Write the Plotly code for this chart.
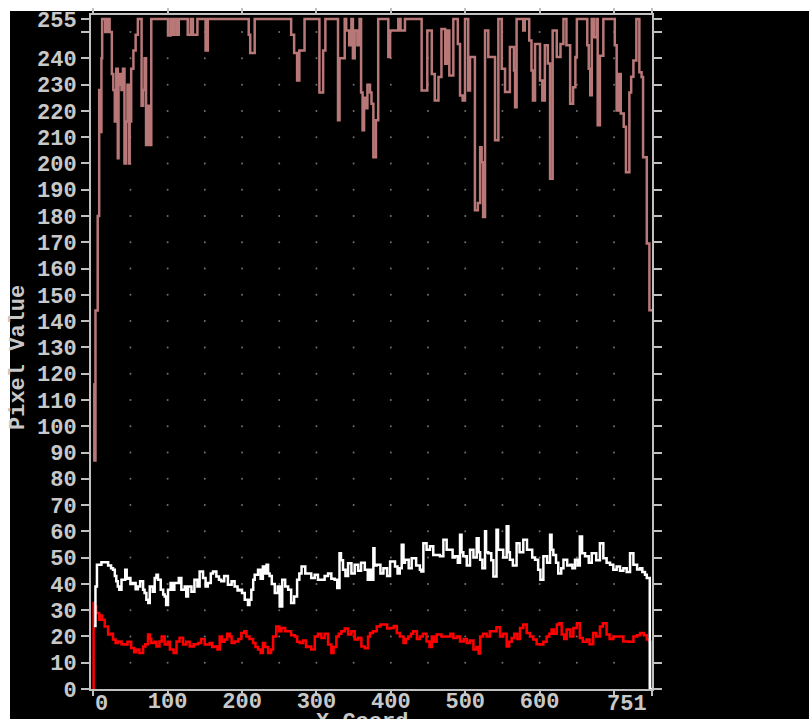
import plotly.graph_objects as go

# ---------------- data ----------------
brown_x = [0, 1.5, 3, 6, 8, 10, 11, 12, 16, 19, 22, 25, 27, 29, 31, 33, 34, 36, 38, 40, 42, 44, 46, 48, 49, 51, 54, 57, 60,
           65, 67, 69, 71, 74, 77, 78, 100.5, 104, 106, 108.6, 112, 115, 127, 131, 134, 140, 151, 154, 209, 211, 217,
           266, 270, 274, 277, 284, 304, 309, 312, 329, 331, 338, 340, 344, 347, 349, 351.4, 355, 358, 360, 362, 364,
           366, 368.5, 372, 374, 376.5, 380, 383, 396.6, 399, 410, 413, 419, 441.4, 449, 455, 459, 464, 468, 473, 476,
           478.6, 484, 490, 493, 496.5, 499.7, 504, 506.4, 513, 517, 520, 522, 524, 526.6, 531, 540, 544.5, 549, 553.5,
           560, 565.5, 567, 569, 578, 580, 586, 589, 591, 593.8, 600.5, 603.6, 607, 611, 614, 617.5, 623, 628, 632, 636,
           641, 645, 648, 650, 664, 666, 668, 670, 673, 676.7, 678, 681, 685.6, 701, 703.5, 706, 709, 713, 716, 720.6,
           723, 726, 730, 734, 737, 739, 744, 747.5, 751]
brown_y = [116, 87, 144, 180, 228, 212, 240, 255, 250, 255, 250, 234, 228, 216, 236, 202, 230, 234, 228, 236, 200, 216, 230,
           200, 216, 236, 243, 249, 255, 222, 228, 240, 207, 222, 207, 255, 248.7, 255, 249, 255, 249, 255, 249, 255, 249,
           255, 243, 255, 249, 242, 255, 249, 242, 231.6, 243, 255, 227, 243, 255, 216.4, 240, 255, 250.6, 245, 255, 240,
           250.6, 245, 255, 227, 212.6, 225, 221, 230, 227, 222.7, 202.4, 216.4, 255, 240.5, 250.6, 255, 250.6, 255,
           227.8, 250.6, 234, 224, 232.9, 251.2, 237.9, 250.6, 233.5, 255, 245.5, 225.9, 224, 255, 227.8, 240.5, 182.2,
           185, 206.2, 200.5, 179.6, 250.6, 240.5, 208.8, 255, 236, 227.2, 244.3, 235.4, 221.4, 255, 250.6, 255, 246.8,
           235.4, 224, 245.5, 231.6, 224, 245, 238, 194.2, 250.6, 240.5, 245.5, 255, 245, 222.7, 229, 240.5, 255, 245,
           236, 226, 255, 248, 255, 214.5, 241, 255, 245, 220.2, 234, 219, 214, 196.7, 227, 233, 239.2, 255, 234.7,
           232.9, 202.4, 169.5, 144.1, 144]

white_x = [1, 3, 5, 11, 20, 24, 26.6, 29, 31, 33, 35, 38, 43, 45, 46.8, 50, 53.5, 57, 60, 63, 67, 69, 71.4, 74, 76, 80, 82.6,
           85, 87, 90.7, 94, 96, 98, 100.5, 104, 107, 109, 111.7, 115, 118.4, 123, 125, 127.4, 132, 136, 140, 143,
           147.6, 151, 154, 158, 161, 165.5, 169, 172, 176, 181, 186, 190, 194, 197, 200, 203.6, 208, 210, 212.5, 215,
           217, 221.5, 225, 228, 231, 233, 235, 237, 240, 244, 248, 250.6, 254, 258, 262, 266, 270, 274, 277, 280, 285,
           288.7, 293, 297.7, 302, 306.6, 311, 315.6, 320, 324.5, 328, 331, 333, 335.7, 339, 342.5, 347, 351.4, 356,
           360, 365, 369, 372, 374, 376.5, 378, 381, 386, 390, 395, 399, 405.6, 409, 412, 414.6, 417, 419, 424, 428,
           434, 439, 441, 443.7, 448, 452.6, 457, 461.6, 466, 470.6, 475, 479.5, 483, 486, 490, 493, 495, 497.4, 502,
           506.4, 511, 515.4, 518, 520, 523, 526.6, 528, 531, 535, 537.8, 542, 544, 546.7, 551, 555.7, 558, 560, 564,
           569, 573, 578, 583, 587, 590, 593.8, 598, 601, 605, 610, 614, 616, 618.4, 622, 625, 629, 632, 637, 641, 644,
           647.5, 651, 654, 657, 661, 666, 670, 676, 681, 685.6, 690, 694.6, 699, 703.5, 708, 712.5, 717, 721.5, 726,
           731, 735, 738, 741.6, 744, 748, 751]
white_y = [24, 39, 47.3, 48.2, 47, 46, 45.4, 43, 41, 39, 37.8, 41.6, 45.4, 42, 42.2, 40, 40.3, 38, 39, 41, 37.8, 36.5, 34,
           32.7, 39, 37, 42.2, 43.5, 41.6, 37.8, 36, 35.2, 32, 37.8, 40.3, 37.8, 40.3, 40.3, 42.2, 37.8, 39, 35.2, 39, 37,
           41.6, 39, 44.7, 42.2, 39, 40.3, 44, 44.7, 42.8, 41.6, 41, 43, 39.7, 41, 39, 37.5, 37.8, 36.5, 34, 32, 34, 37.8,
           41.6, 43.5, 45.4, 42, 46.6, 44, 47.3, 44, 43, 40, 36.5, 39, 31.4, 41.6, 39, 37.8, 32.7, 35.2, 41.6, 44, 46.6,
           44, 44, 42.2, 43.5, 41.6, 41.6, 43, 44, 42, 41.6, 38.4, 51.7, 49, 45.4, 43, 47.9, 44, 47.3, 45, 48, 45.4, 41.6,
           45.4, 41.6, 53.6, 47, 47.3, 44, 46, 43, 48.5, 46.6, 44, 46, 54.9, 48, 49.2, 46, 49.8, 47, 45.4, 44.7, 55.5,
           53, 54.3, 51, 51, 50.5, 56.8, 53, 53, 50, 50.5, 48, 58.7, 52, 50.5, 47, 53, 50, 57.4, 52, 49.2, 46, 60, 52,
           51.7, 49, 42.8, 60.6, 53, 53, 50, 61.9, 52, 49.2, 47, 55.5, 52, 56.8, 53, 53, 50, 49.2, 45.4, 41.6, 50.5, 48,
           58.7, 53, 51, 48, 44, 46, 49.2, 47, 47.3, 46, 49.2, 47, 58, 51.7, 50.5, 48, 51.7, 49, 55.5, 49.8, 48, 47.3,
           45.4, 46.6, 45, 46, 44.5, 51.7, 47.3, 45.5, 46, 44.5, 43.5, 42.2, 0, 0]

red_x = [0, 0.5, 2, 4, 6.4, 8, 10, 12, 15.4, 20, 24, 26.6, 30, 33, 38, 42, 46, 51, 55, 58, 62, 67, 70, 73.6, 76, 78, 82, 85,
         89, 92, 96, 100, 103, 108, 112, 116, 120.7, 125, 129.6, 135, 141, 145, 149.8, 156.5, 160, 163, 167, 170, 173,
         176.7, 180, 183.4, 186, 190, 195, 199, 203, 206, 210, 214.8, 218, 221.5, 225, 228, 231, 235, 239, 241.7, 246,
         250, 253, 258, 262, 266, 271, 274, 277.5, 282, 286, 288.7, 293, 297.7, 302, 306.6, 311, 315.6, 320, 323,
         326.8, 330, 333.5, 338, 342.5, 347, 351.4, 356, 360.4, 365, 369.3, 372, 376, 381, 386, 390, 395, 399, 404,
         408, 412, 417, 420, 423.5, 427, 430, 435, 439, 443, 448, 452, 455, 458, 461.6, 468, 475, 480, 484, 489, 493,
         498, 502, 506, 511, 515, 518, 520, 524, 528.8, 533, 537.8, 542, 546.7, 551, 555.7, 559, 562.4, 566, 570,
         573.6, 578, 582.6, 587, 591.5, 596, 600.5, 605, 609.4, 613, 616, 619, 623, 626, 629.6, 633, 636.3, 641,
         645.3, 650, 654, 658, 663, 667, 672, 676, 681, 685, 690, 694, 699, 706, 712.5, 720, 726, 731, 735, 740, 744,
         748, 750.6, 751]
red_y = [0, 32.7, 31.4, 28.9, 28.9, 26.4, 28, 26.4, 23.8, 20.7, 21, 18.8, 17.5, 18.1, 17, 16.9, 18, 15.6, 14, 15, 13.7,
         16.2, 17, 20.7, 19, 17.5, 18, 16.2, 18.1, 20, 16.9, 18, 15, 13.7, 18.1, 19.5, 16.9, 18, 16.2, 17, 17.5, 19,
         16.9, 17.5, 16, 16.2, 15, 20, 18, 18.8, 21, 20, 17.5, 18.1, 19, 21.3, 22, 20, 19, 17.5, 16, 15, 13.7, 17.5,
         16, 13.7, 15, 20, 23.8, 22, 23.2, 22, 22, 20.5, 20, 18, 17.5, 18.5, 16, 16.2, 15, 20, 21, 19.4, 21, 16.9,
         13.7, 16, 20, 21, 22, 23, 20.7, 22, 18.8, 19.5, 16.2, 15.5, 20, 21.3, 22, 23.8, 24.5, 24.5, 23, 23.2, 24,
         21.3, 20, 17.5, 19, 20, 21, 22, 19, 20, 21, 18.1, 16, 20, 18, 20.7, 20, 20, 21, 19.4, 20, 18.1, 19, 17.5,
         18.5, 15, 16, 13.5, 20, 21, 20, 22, 22, 23.5, 20, 21, 16.2, 18, 19.4, 21, 19, 23.2, 24.5, 21.3, 20, 18.8, 17,
         16.9, 18, 20, 21, 22.6, 21, 24.5, 25, 20.7, 19, 22.6, 20, 23.2, 25, 19.4, 18, 18.8, 17, 21.3, 20, 23.8, 25,
         20.7, 19, 20, 20, 18.1, 18, 20, 20.5, 21.3, 20.5, 18.8, 18, 0, 0]

x_tick_vals = [0, 100, 200, 300, 400, 500, 600, 700, 751]
x_tick_text = ["", "100", "200", "300", "400", "500", "600", "", ""]
y_tick_vals = list(range(0, 251, 10)) + [255]
y_tick_text = [str(v) for v in range(0, 241, 10)] + ["", "255"]
grid_x_vals = list(range(50, 701, 50))
grid_y_vals = list(range(10, 251, 10))

# ---------------- figure ----------------
FONT = dict(family="Liberation Mono", size=22, color="#c8c8c8", weight="bold")
AX = "#c0c0c0"

fig = go.Figure()
gx = [x for y in grid_y_vals for x in grid_x_vals]
gy = [y for y in grid_y_vals for x in grid_x_vals]
fig.add_trace(go.Scatter(x=gx, y=gy, mode="markers", marker=dict(size=2, color="#707070"),
                         hoverinfo="skip", showlegend=False))
fig.add_trace(go.Scatter(x=brown_x, y=brown_y, mode="lines", line=dict(color="#b97878", width=2.5, shape="hv"),
                         showlegend=False))
fig.add_trace(go.Scatter(x=red_x, y=red_y, mode="lines", line=dict(color="#ff0000", width=2.5, shape="hv"),
                         showlegend=False))
fig.add_trace(go.Scatter(x=white_x, y=white_y, mode="lines", line=dict(color="#ffffff", width=2.5, shape="hv"),
                         showlegend=False))

W, H = 809, 719
L, R, T, B = 91, 157, 15, 30
pw, ph = W - L - R, H - T - B

def px(xp):
    return (xp - L) / pw

def py(yp):
    return (H - B - yp) / ph

fig.update_layout(
    template="none",
    width=W, height=H,
    margin=dict(l=L, r=R, t=T, b=B, pad=0, autoexpand=False),
    paper_bgcolor="white", plot_bgcolor="black",
    showlegend=False,
    shapes=[dict(type="rect", xref="paper", yref="paper", x0=px(10), x1=px(812), y0=py(722), y1=py(11),
                 fillcolor="black", line=dict(width=0), layer="below")],
    xaxis=dict(range=[-3, 751], automargin=False, showgrid=False, zeroline=False, showline=True, linecolor=AX,
               linewidth=2, mirror="ticks", ticks="outside", ticklen=5, tickwidth=2, tickcolor=AX,
               tickvals=x_tick_vals, ticktext=x_tick_text, tickfont=FONT, fixedrange=True,
               ticklabelstandoff=-14),
    yaxis=dict(range=[0, 256.5], automargin=False, showgrid=False, zeroline=False, showline=True, linecolor=AX,
               linewidth=2, mirror="ticks", ticks="outside", ticklen=8, tickwidth=2, tickcolor=AX,
               tickvals=y_tick_vals, ticktext=y_tick_text, tickfont=FONT, fixedrange=True),
    annotations=[
        dict(text="0", x=0, y=0, xref="x", yref="paper", xanchor="left", yanchor="top", yshift=-1,
             showarrow=False, font=FONT),
        dict(text="751", x=751, y=0, xref="x", yref="paper", xanchor="right", yanchor="top", yshift=-1, xshift=-3,
             showarrow=False, font=FONT),
        dict(text="Pixel Value", x=px(18), y=py(358), xref="paper", yref="paper", xanchor="center",
             yanchor="middle", textangle=-90, showarrow=False, font=FONT),
        dict(text="X Coord", x=px(362), y=py(708), xref="paper", yref="paper", xanchor="center",
             yanchor="top", showarrow=False, font=FONT),
    ],
)

fig.write_html("out.html")
